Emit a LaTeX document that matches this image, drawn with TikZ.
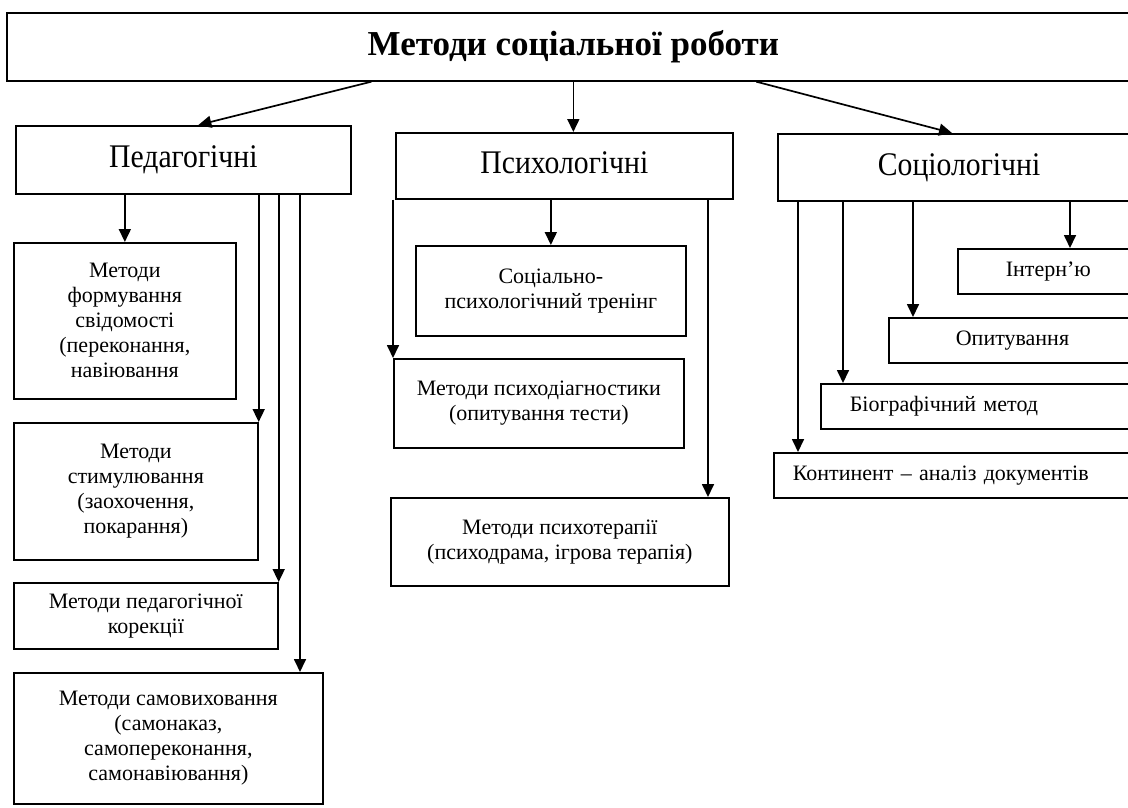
\documentclass[tikz,border=0pt]{standalone}
\usepackage{fontspec}
\setmainfont{Liberation Serif}
\newfontfamily\hdfam{Liberation Serif}[FakeStretch=0.9]
\usepackage{tikz}
\usetikzlibrary{arrows.meta,calc,positioning}
\newcommand{\boxfnt}{\fontsize{22}{25}\selectfont}
\newcommand{\hdfnt}{\hdfam\fontsize{33}{38}\selectfont}
\newcommand{\ttlfnt}{\fontsize{35}{40}\selectfont\bfseries}
\tikzstyle{block} = [rectangle, draw, line width=1.7pt, align=center,
    anchor=north west, inner sep=0pt, font=\boxfnt]
\tikzstyle{cutblock} = [block, align=left, text width=400pt]
\tikzstyle{head} = [font=\hdfnt, text height=24pt, text depth=8pt]
\tikzstyle{line} = [draw, line width=1.7pt, -{Triangle[length=13pt,width=12pt]}]

\begin{document}
\begin{tikzpicture}[x=1pt,y=-1pt]
    \useasboundingbox (0,0) rectangle (1128,807);
    % Place nodes
    \node [block, font=\ttlfnt, text height=24pt, text depth=7pt, minimum width=1133pt, minimum height=68pt] (title) at (6,12) {Методи соціальної роботи};

    \node [block, head, minimum width=335pt, minimum height=68pt] (pedag) at (15,125) {Педагогічні};
    \node [block, head, minimum width=337pt, minimum height=66pt] (psych) at (395,132) {Психологічні};
    \node [cutblock, head, inner xsep=100pt, minimum height=67pt] (socio) at (777,133) {Соціологічні};

    \node [block, minimum width=222pt, minimum height=156pt] (formuv) at (13,242) {Методи\\формування\\свідомості\\(переконання,\\навіювання};
    \node [block, minimum width=244pt, minimum height=137pt] (stymul) at (13,422) {Методи\\стимулювання\\(заохочення,\\покарання)};
    \node [block, minimum width=264pt, minimum height=66pt] (korek) at (13,582) {Методи педагогічної\\корекції};
    \node [block, minimum width=309pt, minimum height=131pt] (samovyh) at (13,672) {Методи самовиховання\\(самонаказ,\\самопереконання,\\самонавіювання)};

    \node [block, minimum width=270pt, minimum height=90pt] (trening) at (415,245) {Соціально-\\психологічний тренінг};
    \node [block, minimum width=290pt, minimum height=89pt] (diag) at (393,358) {Методи психодіагностики\\(опитування тести)};
    \node [block, minimum width=338pt, minimum height=88pt] (terap) at (390,497) {Методи психотерапії\\(психодрама, ігрова терапія)};

    \node [cutblock, inner xsep=48pt, minimum height=45pt] (intervyu) at (957,248) {Інтерн’ю};
    \node [cutblock, inner xsep=67pt, minimum height=45pt] (opyt) at (888,317) {Опитування};
    \node [cutblock, inner xsep=29pt, minimum height=45pt] (biogr) at (820,383) {Біографічний метод};
    \node [cutblock, inner xsep=19pt, minimum height=45pt] (kontyn) at (773,452) {Континент -- аналіз документів};

    \coordinate (samovyhIn) at ([xshift=287pt]samovyh.north west);
    \coordinate (terapIn) at ([xshift=318pt]terap.north west);
    \coordinate (intervyuIn) at ([xshift=113pt]intervyu.north west);
    \coordinate (opytIn) at ([xshift=25pt]opyt.north west);
    \coordinate (biogrIn) at ([xshift=23pt]biogr.north west);
    \coordinate (kontynIn) at ([xshift=25pt]kontyn.north west);

    % Draw edges
    \path [line] ([xshift=-202pt]title.south) -- ([xshift=15pt]pedag.north);
    \path [line] (title.south) -- (title.south |- psych.north);
    \path [line] ([xshift=183pt]title.south) -- ([xshift=175pt]socio.north west);

    \path [line] (pedag.south -| formuv.north) -- (formuv.north);
    \path [line] (pedag.south -| stymul.north east) -- (stymul.north east);
    \path [line] (pedag.south -| korek.north east) -- (korek.north east);
    \path [line] (pedag.south -| samovyhIn) -- (samovyhIn);

    \path [line] (psych.south -| diag.north west) -- (diag.north west);
    \path [line] (psych.south -| trening.north) -- (trening.north);
    \path [line] (psych.south -| terapIn) -- (terapIn);

    \path [line] (socio.south -| intervyuIn) -- (intervyuIn);
    \path [line] (socio.south -| opytIn) -- (opytIn);
    \path [line] (socio.south -| biogrIn) -- (biogrIn);
    \path [line] (socio.south -| kontynIn) -- (kontynIn);

\end{tikzpicture}
\end{document}
